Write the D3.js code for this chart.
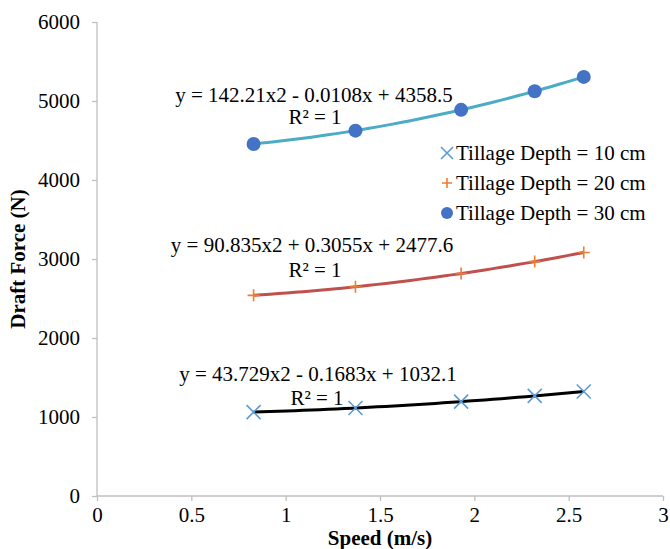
<!DOCTYPE html>
<html>
<head>
<meta charset="utf-8">
<script src="https://cdn.jsdelivr.net/npm/d3@7"></script>
<style>
	body { margin: 0; background: #fff; }
</style>
</head>
<body>
<script>
var width = 670,
		height = 549,
		marginLeft = 97,
		marginRight = 7,
		marginTop = 22,
		marginBottom = 53,
		fontFamily = "'Liberation Serif', 'DejaVu Serif', serif",
		fontSize = "21px";

// data
var speed = [0.83, 1.37, 1.93, 2.32, 2.58];
var force10 = [1062, 1114, 1195, 1267, 1323];
var force20 = [2540, 2648, 2817, 2967, 3083];
var force30 = [4456, 4625, 4888, 5124, 5305];
var seriesNames = ["Tillage Depth = 10 cm", "Tillage Depth = 20 cm", "Tillage Depth = 30 cm"];
var trendCoef10 = [43.729, -0.1683, 1032.1];
var trendCoef20 = [90.835, 0.3055, 2477.6];
var trendCoef30 = [142.21, -0.0108, 4358.5];
var equations = ["y = 43.729x2 - 0.1683x + 1032.1", "y = 90.835x2 + 0.3055x + 2477.6", "y = 142.21x2 - 0.0108x + 4358.5"];
var xTicks = [0, 0.5, 1, 1.5, 2, 2.5, 3];
var yTicks = [0, 1000, 2000, 3000, 4000, 5000, 6000];

var series = [
	{ name: seriesNames[0], values: force10, coef: trendCoef10, eq: equations[0], marker: "x", markColor: "#5b9bd5", lineColor: "#000000", eqPos: [318, 381], r2Pos: [317, 405] },
	{ name: seriesNames[1], values: force20, coef: trendCoef20, eq: equations[1], marker: "plus", markColor: "#ed7d31", lineColor: "#c0504d", eqPos: [312, 252], r2Pos: [315, 277] },
	{ name: seriesNames[2], values: force30, coef: trendCoef30, eq: equations[2], marker: "circle", markColor: "#4472c4", lineColor: "#4bacc6", eqPos: [314, 102], r2Pos: [315, 124] }
];

var svg = d3.select("body")
	.append("svg")
	.attr("width", width)
	.attr("height", height);

var x = d3.scaleLinear()
	.domain([0, 3])
	.range([marginLeft, width - marginRight]);

var y = d3.scaleLinear()
	.domain([0, 6000])
	.range([height - marginBottom, marginTop]);

/************************ AXES ************************/
var xAxis = svg.append("g")
	.attr("transform", "translate(0," + y(0) + ")")
	.call(d3.axisBottom(x).tickValues(xTicks).tickSize(5).tickFormat(d3.format("")));

var yAxis = svg.append("g")
	.attr("transform", "translate(" + x(0) + ",0)")
	.call(d3.axisLeft(y).tickValues(yTicks).tickSize(5).tickFormat(d3.format("")));

[xAxis, yAxis].forEach(function (a) {
	a.attr("font-family", null).attr("font-size", null);
	a.selectAll("path, line").attr("stroke", "#bfbfbf").attr("stroke-width", 1.3);
	a.selectAll("text")
		.style("font-family", fontFamily)
		.style("font-size", fontSize)
		.attr("fill", "#000");
});
xAxis.selectAll("text").attr("dy", "0.85em");
yAxis.selectAll("text").attr("x", -17).attr("dy", "0.33em");
yAxis.select(".domain").attr("d", "M0," + y(6000) + "V" + y(0));
xAxis.select(".domain").attr("d", "M" + x(0) + ",0H" + x(3));

svg.append("text")
	.attr("x", x(1.5))
	.attr("y", 545)
	.attr("text-anchor", "middle")
	.style("font-family", fontFamily)
	.style("font-size", fontSize)
	.style("font-weight", "bold")
	.text("Speed (m/s)");

svg.append("text")
	.attr("transform", "translate(25," + y(3000) + ") rotate(-90)")
	.attr("text-anchor", "middle")
	.style("font-family", fontFamily)
	.style("font-size", fontSize)
	.style("font-weight", "bold")
	.text("Draft Force (N)");

/************************ TRENDLINES ************************/
function poly(c, v) {
	return c[0] * v * v + c[1] * v + c[2];
}

var line = d3.line()
	.x(function (d) { return x(d[0]); })
	.y(function (d) { return y(d[1]); });

series.forEach(function (s) {
	var pts = d3.range(0, 41).map(function (i) {
		var v = speed[0] + (speed[speed.length - 1] - speed[0]) * i / 40;
		return [v, poly(s.coef, v)];
	});
	svg.append("path")
		.attr("d", line(pts))
		.attr("fill", "none")
		.attr("stroke", s.lineColor)
		.attr("stroke-width", 3);
});

/************************ MARKERS ************************/
function drawMarker(g, type, color, cx, cy, size) {
	if (type === "x") {
		var a = size;
		g.append("path")
			.attr("d", "M" + (cx - a) + "," + (cy - a) + "L" + (cx + a) + "," + (cy + a) +
				"M" + (cx - a) + "," + (cy + a) + "L" + (cx + a) + "," + (cy - a))
			.attr("stroke", color).attr("stroke-width", 1.6).attr("fill", "none");
	} else if (type === "plus") {
		var b = size - 1;
		g.append("path")
			.attr("d", "M" + (cx - b) + "," + cy + "H" + (cx + b) + "M" + cx + "," + (cy - b) + "V" + (cy + b))
			.attr("stroke", color).attr("stroke-width", 1.6).attr("fill", "none");
	} else {
		g.append("circle")
			.attr("cx", cx).attr("cy", cy).attr("r", size)
			.attr("fill", color);
	}
}

series.forEach(function (s) {
	var g = svg.append("g");
	s.values.forEach(function (v, i) {
		drawMarker(g, s.marker, s.markColor, x(speed[i]), y(v), 7);
	});
});

/************************ EQUATION LABELS ************************/
series.forEach(function (s) {
	svg.append("text")
		.attr("x", s.eqPos[0])
		.attr("y", s.eqPos[1])
		.attr("text-anchor", "middle")
		.style("font-family", fontFamily)
		.style("font-size", fontSize)
		.text(s.eq);
	svg.append("text")
		.attr("x", s.r2Pos[0])
		.attr("y", s.r2Pos[1])
		.attr("text-anchor", "middle")
		.style("font-family", fontFamily)
		.style("font-size", fontSize)
		.text("R\u00b2 = 1");
});

/************************ LEGEND ************************/
var legend = svg.append("g");
series.forEach(function (s, i) {
	var ly = 153 + i * 30;
	var g = legend.append("g");
	drawMarker(g, s.marker, s.markColor, 447, ly, 6);
	g.append("text")
		.attr("x", 456)
		.attr("y", ly + 7)
		.style("font-family", fontFamily)
		.style("font-size", fontSize)
		.text(s.name);
});
</script>
</body>
</html>
